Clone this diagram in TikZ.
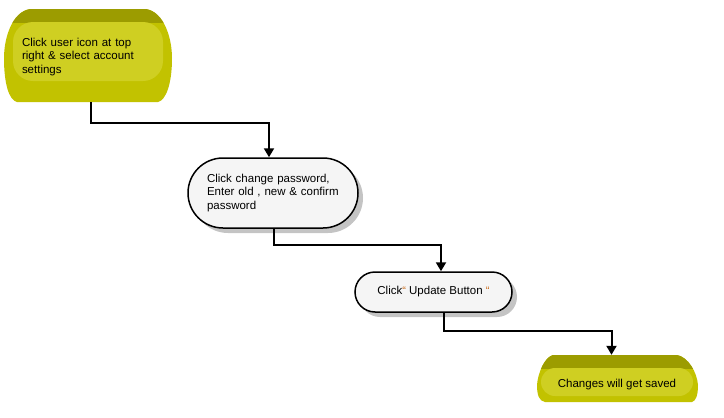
\documentclass[tikz,border=0pt]{standalone}
\usepackage{fontspec}
\setmainfont{Liberation Sans}
\usetikzlibrary{arrows.meta,shadows,calc}
\definecolor{ydark}{HTML}{9C9C00}
\definecolor{ymain}{HTML}{C2C200}
\definecolor{ylight}{HTML}{CFCF22}
\definecolor{wfill}{HTML}{F5F5F5}
\definecolor{shadowgray}{HTML}{C4C4C4}
\definecolor{quotecol}{HTML}{C86410}
\tikzset{
  txt/.style={font=\fontsize{11.5}{13.5}\selectfont, text=black, inner sep=0pt},
  whitebox/.style={draw=black, line width=1.5pt, fill=wfill, txt,
    drop shadow={shadow xshift=5pt, shadow yshift=-5pt, fill=shadowgray, opacity=1}},
  flow/.style={draw=black, line width=2pt, -{Triangle[width=10pt,length=9pt]}},
  holder/.style={draw=none, txt}
}
\newcommand{\qm}{\textcolor{quotecol}{\fontsize{11}{11}\selectfont “}}
\begin{document}
\begin{tikzpicture}[x=1pt,y=-1pt]
\useasboundingbox (0,0) rectangle (724,418);
% ---- yellow shape 1 ----
\begin{scope}
\path[clip] (30,9) -- (146,9) .. controls (164,12) and (172,38) .. (172,58)
  .. controls (172,84) and (166,100) .. (158,102) -- (17,102)
  .. controls (9,100) and (4,84) .. (4,58) .. controls (4,38) and (12,12) .. (30,9) -- cycle;
\fill[ymain] (0,0) rectangle (180,110);
\fill[ydark] (0,0) rectangle (180,23);
\fill[ylight] (13,22) [rounded corners=20pt] -- (163,22) -- (163,81) -- (13,81) -- cycle;
\fill[ylight] (33,22) rectangle (143,40);
\end{scope}
\node[holder, minimum width=168pt, minimum height=93pt] (n1) at (88,55.5) {};
\node[txt, text width=132pt, align=left] at (88,57) {Click user icon at top\\right \& select account\\settings};
% ---- white box 2 ----
\node[whitebox, rounded corners=35pt, minimum width=170pt, minimum height=70pt,
  text width=132pt, align=left] (n2) at (273,193)
  {Click change password,\\Enter old , new \& confirm\\password};
% ---- white box 3 ----
\node[whitebox, rounded corners=20pt, minimum width=157pt, minimum height=40pt] (n3) at (433.5,292)
  {Click\qm\ Update Button \qm};
% ---- yellow shape 4 ----
\begin{scope}
\path[clip] (553,355) -- (677,355) .. controls (688,357) and (697,372) .. (698,385)
  .. controls (698,395) and (696,401) .. (692,402) -- (545,402)
  .. controls (539,401) and (537,395) .. (537,385) .. controls (538,372) and (545,357) .. (553,355) -- cycle;
\fill[ymain] (530,350) rectangle (705,410);
\fill[ydark] (530,350) rectangle (705,369);
\fill[ylight] (541,368) [rounded corners=14pt] -- (693,368) -- (693,396) -- (541,396) -- cycle;
\fill[ylight] (560,368) rectangle (675,380);
\end{scope}
\node[holder, minimum width=161pt, minimum height=47pt] (n4) at (617.5,378.5) {};
\node[txt] at (617,385) {Changes will get saved};
% ---- connectors ----
\draw[flow] ([xshift=3pt]n1.south) -- ++(0,21) -| ([xshift=-4pt]n2.north);
\draw[flow] ([xshift=1pt]n2.south) -- ++(0,16) -| ([xshift=7.5pt]n3.north);
\draw[flow] ([xshift=10.5pt]n3.south) -- ++(0,18) -| ([xshift=-6pt]n4.north);
\end{tikzpicture}
\end{document}
